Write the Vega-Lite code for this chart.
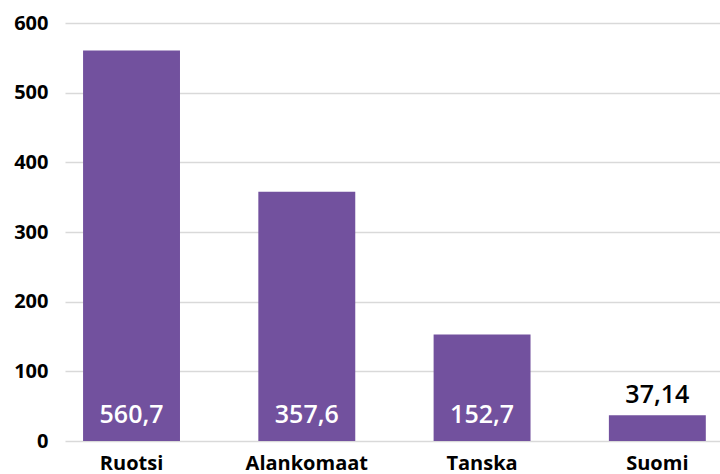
{
  "$schema": "https://vega.github.io/schema/vega-lite/v6.json",
  "width": 655,
  "height": 418,
  "autosize": {"type": "none"},
  "padding": {"left": 65, "top": 23, "right": 0, "bottom": 33},
  "background": "white",
  "data": {"values": [
    {"maa": "Ruotsi", "arvo": 560.7, "label": "560,7"},
    {"maa": "Alankomaat", "arvo": 357.6, "label": "357,6"},
    {"maa": "Tanska", "arvo": 152.7, "label": "152,7"},
    {"maa": "Suomi", "arvo": 37.14, "label": "37,14"}
  ]},
  "encoding": {
    "x": {"field": "maa", "type": "nominal", "sort": null,
      "scale": {"paddingInner": 0.447, "paddingOuter": 0.092, "align": 0.56},
      "axis": {"title": null, "labelAngle": 0, "ticks": false, "domain": false, "grid": false,
        "labelFont": "Open Sans", "labelFontWeight": "bold", "labelFontSize": 20, "labelColor": "#000000", "labelPadding": 12}},
    "y": {"field": "arvo", "type": "quantitative",
      "scale": {"domain": [0, 600], "nice": false},
      "axis": {"title": null, "values": [0, 100, 200, 300, 400, 500, 600], "ticks": false, "domain": false,
        "grid": true, "gridColor": "#d9d9d9", "gridWidth": 1.5,
        "labelFont": "Open Sans", "labelFontWeight": "bold", "labelFontSize": 20, "labelColor": "#000000", "labelPadding": 17}}
  },
  "layer": [
    {"mark": {"type": "bar", "color": "#72519e"}},
    {"transform": [{"filter": "datum.arvo > 100"}],
     "mark": {"type": "text", "font": "Open Sans", "fontSize": 25, "fontWeight": 600, "color": "white", "baseline": "alphabetic", "dy": -18},
     "encoding": {"y": {"datum": 0, "type": "quantitative"}, "text": {"field": "label"}}},
    {"transform": [{"filter": "datum.arvo <= 100"}],
     "mark": {"type": "text", "font": "Open Sans", "fontSize": 25, "fontWeight": 600, "color": "black", "baseline": "alphabetic", "dy": -12},
     "encoding": {"text": {"field": "label"}}}
  ],
  "config": {"view": {"stroke": null}}
}
